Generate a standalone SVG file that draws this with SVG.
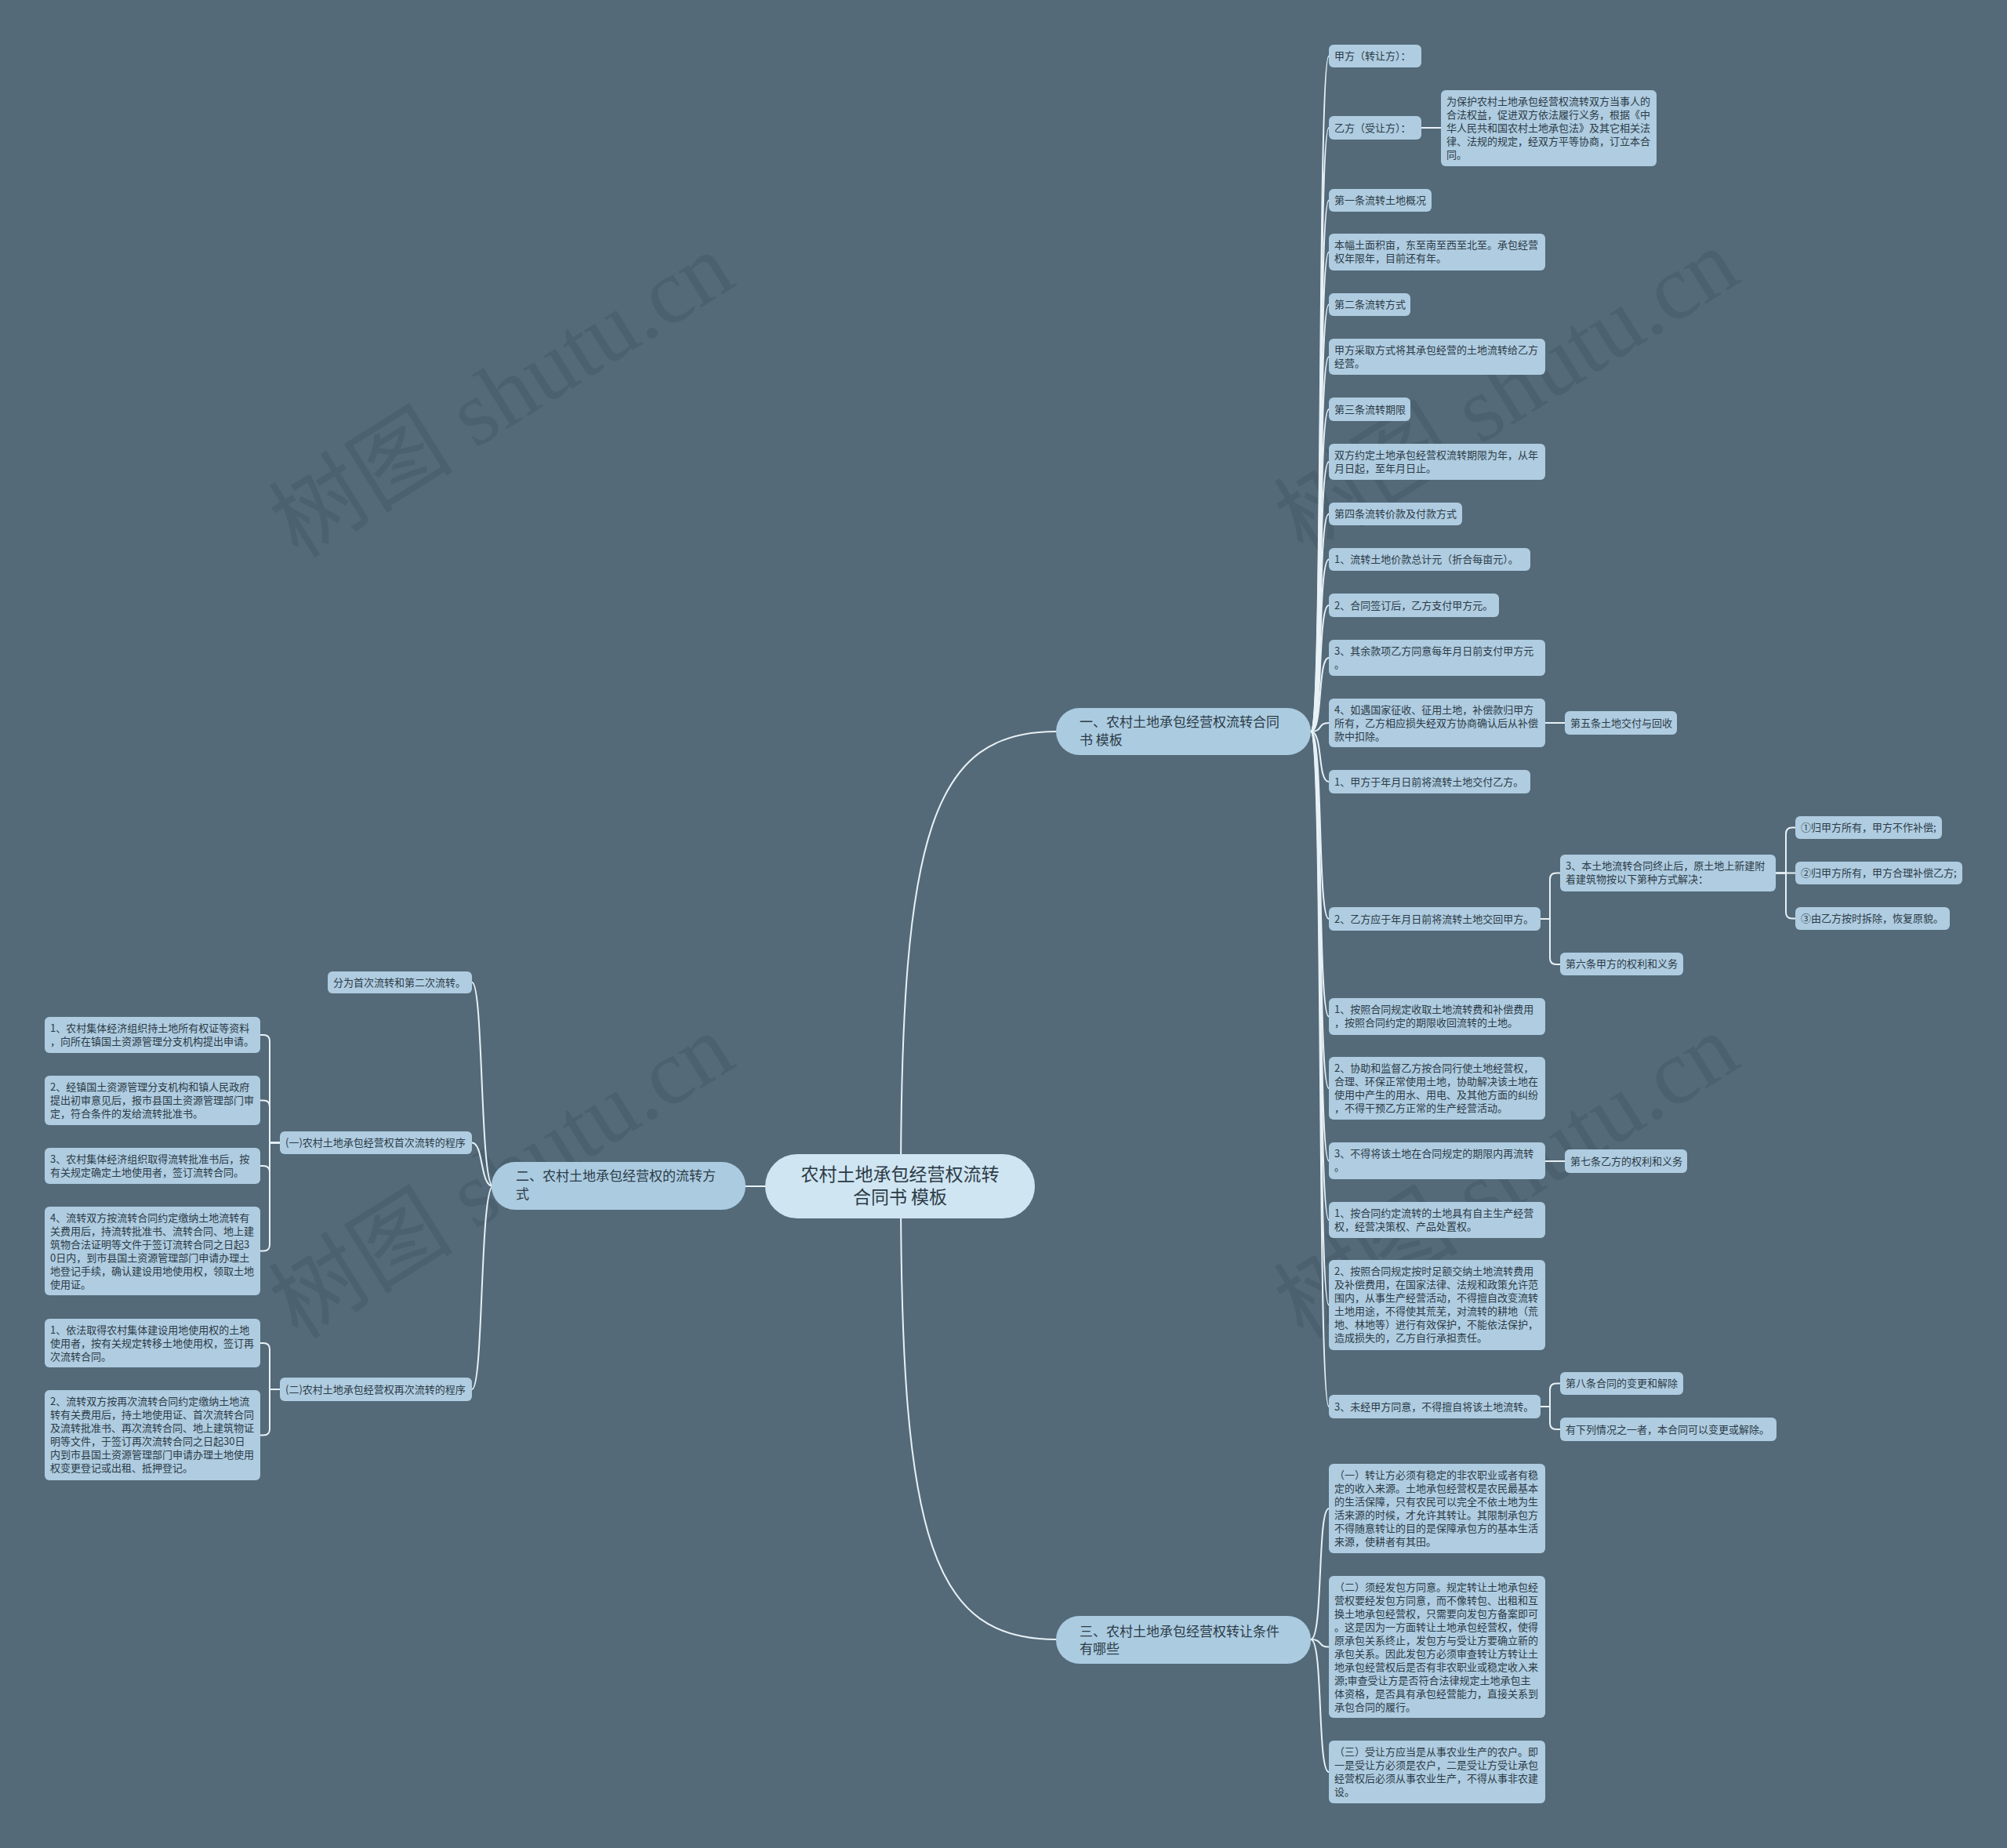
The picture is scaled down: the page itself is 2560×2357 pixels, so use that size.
<svg xmlns="http://www.w3.org/2000/svg" width="2560" height="2357" viewBox="0 0 2560 2357">
<style>
.bg{fill:#546a79}
.wm{font-family:'Liberation Serif','Noto Sans CJK SC',serif;font-size:118px;fill:#465a68;opacity:0.55}
.box{fill:#afcce0}
.l1{fill:#abcbe0}
.root{fill:#cfe5f1}
.t{font-family:'Noto Sans CJK SC','Noto Sans',sans-serif;font-size:13px;fill:#2c3b47}
.t1{font-family:'Noto Sans CJK SC','Noto Sans',sans-serif;font-size:17px;fill:#2c3b47}
.tr{font-family:'Noto Sans CJK SC','Noto Sans',sans-serif;font-size:23px;fill:#2c3b47}
.c{fill:none;stroke:#e8f1f6;stroke-width:2}
</style>
<rect class="bg" x="0" y="0" width="2560" height="2357"/>
<g id="watermarks">
<text class="wm" transform="translate(661,538) rotate(-32)" text-anchor="middle">树图 shutu.cn</text>
<text class="wm" transform="translate(1943,533) rotate(-32)" text-anchor="middle">树图 shutu.cn</text>
<text class="wm" transform="translate(661,1534) rotate(-32)" text-anchor="middle">树图 shutu.cn</text>
<text class="wm" transform="translate(1943,1534) rotate(-32)" text-anchor="middle">树图 shutu.cn</text>
</g>
<g id="connectors">
<path class="c" d="M1149,1513 C1149,1060 1190,933 1347,933"/>
<path class="c" d="M1149,1513 C1149,1966 1190,2091 1347,2091"/>
<path class="c" d="M976,1513 L951,1513"/>
<path class="c" d="M1672,933 C1688,933 1680,71.5 1695,71.5"/>
<path class="c" d="M1672,933 C1688,933 1680,163 1695,163"/>
<path class="c" d="M1672,933 C1688,933 1680,255.5 1695,255.5"/>
<path class="c" d="M1672,933 C1688,933 1680,321.5 1695,321.5"/>
<path class="c" d="M1672,933 C1688,933 1680,388.5 1695,388.5"/>
<path class="c" d="M1672,933 C1688,933 1680,455 1695,455"/>
<path class="c" d="M1672,933 C1688,933 1680,522 1695,522"/>
<path class="c" d="M1672,933 C1688,933 1680,589 1695,589"/>
<path class="c" d="M1672,933 C1688,933 1680,655.5 1695,655.5"/>
<path class="c" d="M1672,933 C1688,933 1680,713.5 1695,713.5"/>
<path class="c" d="M1672,933 C1688,933 1680,772 1695,772"/>
<path class="c" d="M1672,933 C1688,933 1680,839 1695,839"/>
<path class="c" d="M1672,933 C1688,933 1680,922 1695,922"/>
<path class="c" d="M1672,933 C1688,933 1680,997 1695,997"/>
<path class="c" d="M1672,933 C1688,933 1680,1172 1695,1172"/>
<path class="c" d="M1672,933 C1688,933 1680,1296.5 1695,1296.5"/>
<path class="c" d="M1672,933 C1688,933 1680,1388 1695,1388"/>
<path class="c" d="M1672,933 C1688,933 1680,1480.5 1695,1480.5"/>
<path class="c" d="M1672,933 C1688,933 1680,1556 1695,1556"/>
<path class="c" d="M1672,933 C1688,933 1680,1664.5 1695,1664.5"/>
<path class="c" d="M1672,933 C1688,933 1680,1794 1695,1794"/>
<path class="c" d="M1813,163 L1838,163"/>
<path class="c" d="M1971,922 L1996,922"/>
<path class="c" d="M1971,1481 L1996,1481"/>
<path class="c" d="M1965,1172 H1977 V1121.5 Q1977,1113.5 1985,1113.5 H1990"/>
<path class="c" d="M1965,1172 H1977 V1222 Q1977,1230 1985,1230 H1990"/>
<path class="c" d="M2265,1113.5 H2278 V1063.5 Q2278,1055.5 2286,1055.5 H2290"/>
<path class="c" d="M2265,1113.5 H2290"/>
<path class="c" d="M2265,1113.5 H2278 V1163.5 Q2278,1171.5 2286,1171.5 H2290"/>
<path class="c" d="M1965,1794 H1977 V1772.5 Q1977,1764.5 1985,1764.5 H1990"/>
<path class="c" d="M1965,1794 H1977 V1815 Q1977,1823 1985,1823 H1990"/>
<path class="c" d="M1672,2091 C1688,2091 1680,1924 1695,1924"/>
<path class="c" d="M1672,2091 C1688,2091 1680,2100.5 1695,2100.5"/>
<path class="c" d="M1672,2091 C1688,2091 1680,2260 1695,2260"/>
<path class="c" d="M629,1513 C612,1513 617,1253 602,1253"/>
<path class="c" d="M629,1513 C612,1513 617,1457.5 602,1457.5"/>
<path class="c" d="M629,1513 C612,1513 617,1772 602,1772"/>
<path class="c" d="M357,1457.5 H344 V1328 Q344,1320 336,1320 H332"/>
<path class="c" d="M357,1457.5 H344 V1411.5 Q344,1403.5 336,1403.5 H332"/>
<path class="c" d="M357,1457.5 H344 V1495 Q344,1487 336,1487 H332"/>
<path class="c" d="M357,1457.5 H344 V1587.5 Q344,1595.5 336,1595.5 H332"/>
<path class="c" d="M357,1772 H344 V1721 Q344,1713 336,1713 H332"/>
<path class="c" d="M357,1772 H344 V1822.5 Q344,1830.5 336,1830.5 H332"/>
</g>
<g id="root"><rect class="root" x="976" y="1472" width="344" height="82" rx="41"/><text class="tr" text-anchor="middle"><tspan x="1148" y="1506">农村土地承包经营权流转</tspan><tspan x="1148" y="1535">合同书 模板</tspan></text></g>
<g id="b1"><rect class="l1" x="1347" y="903" width="325" height="60" rx="30"/><text class="t1"><tspan x="1377" y="927">一、农村土地承包经营权流转合同</tspan><tspan x="1377" y="950">书 模板</tspan></text></g>
<g id="b2"><rect class="l1" x="627" y="1482" width="324" height="61" rx="30"/><text class="t1"><tspan x="658" y="1506">二、农村土地承包经营权的流转方</tspan><tspan x="658" y="1529">式</tspan></text></g>
<g id="b3"><rect class="l1" x="1347" y="2061" width="325" height="61" rx="30"/><text class="t1"><tspan x="1377" y="2087">三、农村土地承包经营权转让条件</tspan><tspan x="1377" y="2109">有哪些</tspan></text></g>
<g id="n1"><rect class="box" x="1695" y="57" width="118" height="29" rx="6"/><text class="t" x="1702" y="76">甲方（转让方）：</text></g>
<g id="n2"><rect class="box" x="1695" y="148" width="118" height="30" rx="6"/><text class="t" x="1702" y="168">乙方（受让方）：</text></g>
<g id="n2a"><rect class="box" x="1838" y="115" width="275" height="97" rx="6"/><text class="t"><tspan x="1845" y="134">为保护农村土地承包经营权流转双方当事人的</tspan><tspan x="1845" y="151">合法权益，促进双方依法履行义务，根据《中</tspan><tspan x="1845" y="168">华人民共和国农村土地承包法》及其它相关法</tspan><tspan x="1845" y="185">律、法规的规定，经双方平等协商，订立本合</tspan><tspan x="1845" y="202">同。</tspan></text></g>
<g id="n3"><rect class="box" x="1695" y="241" width="131" height="29" rx="6"/><text class="t" x="1702" y="260">第一条流转土地概况</text></g>
<g id="n4"><rect class="box" x="1695" y="298" width="276" height="47" rx="6"/><text class="t"><tspan x="1702" y="317">本幅土面积亩，东至南至西至北至。承包经营</tspan><tspan x="1702" y="334">权年限年，目前还有年。</tspan></text></g>
<g id="n5"><rect class="box" x="1695" y="374" width="104" height="29" rx="6"/><text class="t" x="1702" y="393">第二条流转方式</text></g>
<g id="n6"><rect class="box" x="1695" y="432" width="276" height="46" rx="6"/><text class="t"><tspan x="1702" y="451">甲方采取方式将其承包经营的土地流转给乙方</tspan><tspan x="1702" y="468">经营。</tspan></text></g>
<g id="n7"><rect class="box" x="1695" y="507" width="104" height="30" rx="6"/><text class="t" x="1702" y="527">第三条流转期限</text></g>
<g id="n8"><rect class="box" x="1695" y="566" width="276" height="46" rx="6"/><text class="t"><tspan x="1702" y="585">双方约定土地承包经营权流转期限为年，从年</tspan><tspan x="1702" y="602">月日起，至年月日止。</tspan></text></g>
<g id="n9"><rect class="box" x="1695" y="641" width="170" height="29" rx="6"/><text class="t" x="1702" y="660">第四条流转价款及付款方式</text></g>
<g id="n10"><rect class="box" x="1695" y="699" width="257" height="29" rx="6"/><text class="t" x="1702" y="718">1、流转土地价款总计元（折合每亩元）。</text></g>
<g id="n11"><rect class="box" x="1695" y="757" width="217" height="30" rx="6"/><text class="t" x="1702" y="777">2、合同签订后，乙方支付甲方元。</text></g>
<g id="n12"><rect class="box" x="1695" y="816" width="276" height="46" rx="6"/><text class="t"><tspan x="1702" y="835">3、其余款项乙方同意每年月日前支付甲方元</tspan><tspan x="1702" y="852">。</tspan></text></g>
<g id="n13"><rect class="box" x="1695" y="891" width="276" height="62" rx="6"/><text class="t"><tspan x="1702" y="910">4、如遇国家征收、征用土地，补偿款归甲方</tspan><tspan x="1702" y="927">所有，乙方相应损失经双方协商确认后从补偿</tspan><tspan x="1702" y="944">款中扣除。</tspan></text></g>
<g id="n13a"><rect class="box" x="1996" y="907" width="143" height="30" rx="6"/><text class="t" x="2003" y="927">第五条土地交付与回收</text></g>
<g id="n14"><rect class="box" x="1695" y="982" width="257" height="30" rx="6"/><text class="t" x="1702" y="1002">1、甲方于年月日前将流转土地交付乙方。</text></g>
<g id="n15"><rect class="box" x="1695" y="1157" width="270" height="30" rx="6"/><text class="t" x="1702" y="1177">2、乙方应于年月日前将流转土地交回甲方。</text></g>
<g id="n15a"><rect class="box" x="1990" y="1090" width="275" height="47" rx="6"/><text class="t"><tspan x="1997" y="1109">3、本土地流转合同终止后，原土地上新建附</tspan><tspan x="1997" y="1126">着建筑物按以下第种方式解决：</tspan></text></g>
<g id="n15a1"><rect class="box" x="2290" y="1041" width="187" height="29" rx="6"/><text class="t" x="2297" y="1060">①归甲方所有，甲方不作补偿;</text></g>
<g id="n15a2"><rect class="box" x="2290" y="1099" width="213" height="29" rx="6"/><text class="t" x="2297" y="1118">②归甲方所有，甲方合理补偿乙方;</text></g>
<g id="n15a3"><rect class="box" x="2290" y="1157" width="197" height="29" rx="6"/><text class="t" x="2297" y="1176">③由乙方按时拆除，恢复原貌。</text></g>
<g id="n15b"><rect class="box" x="1990" y="1215" width="157" height="29" rx="6"/><text class="t" x="1997" y="1234">第六条甲方的权利和义务</text></g>
<g id="n16"><rect class="box" x="1695" y="1273" width="276" height="47" rx="6"/><text class="t"><tspan x="1702" y="1292">1、按照合同规定收取土地流转费和补偿费用</tspan><tspan x="1702" y="1309">，按照合同约定的期限收回流转的土地。</tspan></text></g>
<g id="n17"><rect class="box" x="1695" y="1348" width="276" height="80" rx="6"/><text class="t"><tspan x="1702" y="1367">2、协助和监督乙方按合同行使土地经营权，</tspan><tspan x="1702" y="1384">合理、环保正常使用土地，协助解决该土地在</tspan><tspan x="1702" y="1401">使用中产生的用水、用电、及其他方面的纠纷</tspan><tspan x="1702" y="1418">，不得干预乙方正常的生产经营活动。</tspan></text></g>
<g id="n18"><rect class="box" x="1695" y="1457" width="276" height="47" rx="6"/><text class="t"><tspan x="1702" y="1476">3、不得将该土地在合同规定的期限内再流转</tspan><tspan x="1702" y="1493">。</tspan></text></g>
<g id="n18a"><rect class="box" x="1996" y="1466" width="156" height="30" rx="6"/><text class="t" x="2003" y="1486">第七条乙方的权利和义务</text></g>
<g id="n19"><rect class="box" x="1695" y="1533" width="276" height="46" rx="6"/><text class="t"><tspan x="1702" y="1552">1、按合同约定流转的土地具有自主生产经营</tspan><tspan x="1702" y="1569">权，经营决策权、产品处置权。</tspan></text></g>
<g id="n20"><rect class="box" x="1695" y="1607" width="276" height="115" rx="6"/><text class="t"><tspan x="1702" y="1626">2、按照合同规定按时足额交纳土地流转费用</tspan><tspan x="1702" y="1643">及补偿费用，在国家法律、法规和政策允许范</tspan><tspan x="1702" y="1660">围内，从事生产经营活动，不得擅自改变流转</tspan><tspan x="1702" y="1677">土地用途，不得使其荒芜，对流转的耕地（荒</tspan><tspan x="1702" y="1694">地、林地等）进行有效保护，不能依法保护，</tspan><tspan x="1702" y="1711">造成损失的，乙方自行承担责任。</tspan></text></g>
<g id="n21"><rect class="box" x="1695" y="1779" width="270" height="30" rx="6"/><text class="t" x="1702" y="1799">3、未经甲方同意，不得擅自将该土地流转。</text></g>
<g id="n21a"><rect class="box" x="1990" y="1750" width="157" height="29" rx="6"/><text class="t" x="1997" y="1769">第八条合同的变更和解除</text></g>
<g id="n21b"><rect class="box" x="1990" y="1808" width="276" height="30" rx="6"/><text class="t" x="1997" y="1828">有下列情况之一者，本合同可以变更或解除。</text></g>
<g id="n31"><rect class="box" x="1695" y="1867" width="276" height="114" rx="6"/><text class="t"><tspan x="1702" y="1886">（一）转让方必须有稳定的非农职业或者有稳</tspan><tspan x="1702" y="1903">定的收入来源。土地承包经营权是农民最基本</tspan><tspan x="1702" y="1920">的生活保障，只有农民可以完全不依土地为生</tspan><tspan x="1702" y="1937">活来源的时候，才允许其转让。其限制承包方</tspan><tspan x="1702" y="1954">不得随意转让的目的是保障承包方的基本生活</tspan><tspan x="1702" y="1971">来源，使耕者有其田。</tspan></text></g>
<g id="n32"><rect class="box" x="1695" y="2010" width="276" height="181" rx="6"/><text class="t"><tspan x="1702" y="2029">（二）须经发包方同意。规定转让土地承包经</tspan><tspan x="1702" y="2046">营权要经发包方同意，而不像转包、出租和互</tspan><tspan x="1702" y="2063">换土地承包经营权，只需要向发包方备案即可</tspan><tspan x="1702" y="2080">。这是因为一方面转让土地承包经营权，使得</tspan><tspan x="1702" y="2097">原承包关系终止，发包方与受让方要确立新的</tspan><tspan x="1702" y="2114">承包关系。因此发包方必须审查转让方转让土</tspan><tspan x="1702" y="2131">地承包经营权后是否有非农职业或稳定收入来</tspan><tspan x="1702" y="2148">源;审查受让方是否符合法律规定土地承包主</tspan><tspan x="1702" y="2165">体资格，是否具有承包经营能力，直接关系到</tspan><tspan x="1702" y="2182">承包合同的履行。</tspan></text></g>
<g id="n33"><rect class="box" x="1695" y="2220" width="276" height="80" rx="6"/><text class="t"><tspan x="1702" y="2239">（三）受让方应当是从事农业生产的农户。即</tspan><tspan x="1702" y="2256">一是受让方必须是农户，二是受让方受让承包</tspan><tspan x="1702" y="2273">经营权后必须从事农业生产，不得从事非农建</tspan><tspan x="1702" y="2290">设。</tspan></text></g>
<g id="L1"><rect class="box" x="418" y="1239" width="184" height="28" rx="6"/><text class="t" x="425" y="1258">分为首次流转和第二次流转。</text></g>
<g id="L2"><rect class="box" x="357" y="1443" width="245" height="29" rx="6"/><text class="t" x="364" y="1462">(一)农村土地承包经营权首次流转的程序</text></g>
<g id="L2a"><rect class="box" x="57" y="1297" width="275" height="46" rx="6"/><text class="t"><tspan x="64" y="1316">1、农村集体经济组织持土地所有权证等资料</tspan><tspan x="64" y="1333">，向所在镇国土资源管理分支机构提出申请。</tspan></text></g>
<g id="L2b"><rect class="box" x="57" y="1372" width="275" height="63" rx="6"/><text class="t"><tspan x="64" y="1391">2、经镇国土资源管理分支机构和镇人民政府</tspan><tspan x="64" y="1408">提出初审意见后，报市县国土资源管理部门审</tspan><tspan x="64" y="1425">定，符合条件的发给流转批准书。</tspan></text></g>
<g id="L2c"><rect class="box" x="57" y="1464" width="275" height="46" rx="6"/><text class="t"><tspan x="64" y="1483">3、农村集体经济组织取得流转批准书后，按</tspan><tspan x="64" y="1500">有关规定确定土地使用者，签订流转合同。</tspan></text></g>
<g id="L2d"><rect class="box" x="57" y="1539" width="275" height="113" rx="6"/><text class="t"><tspan x="64" y="1558">4、流转双方按流转合同约定缴纳土地流转有</tspan><tspan x="64" y="1575">关费用后，持流转批准书、流转合同、地上建</tspan><tspan x="64" y="1592">筑物合法证明等文件于签订流转合同之日起3</tspan><tspan x="64" y="1609">0日内，到市县国土资源管理部门申请办理土</tspan><tspan x="64" y="1626">地登记手续，确认建设用地使用权，领取土地</tspan><tspan x="64" y="1643">使用证。</tspan></text></g>
<g id="L3"><rect class="box" x="357" y="1757" width="245" height="30" rx="6"/><text class="t" x="364" y="1777">(二)农村土地承包经营权再次流转的程序</text></g>
<g id="L3a"><rect class="box" x="57" y="1682" width="275" height="62" rx="6"/><text class="t"><tspan x="64" y="1701">1、依法取得农村集体建设用地使用权的土地</tspan><tspan x="64" y="1718">使用者，按有关规定转移土地使用权，签订再</tspan><tspan x="64" y="1735">次流转合同。</tspan></text></g>
<g id="L3b"><rect class="box" x="57" y="1773" width="275" height="115" rx="6"/><text class="t"><tspan x="64" y="1792">2、流转双方按再次流转合同约定缴纳土地流</tspan><tspan x="64" y="1809">转有关费用后，持土地使用证、首次流转合同</tspan><tspan x="64" y="1826">及流转批准书、再次流转合同、地上建筑物证</tspan><tspan x="64" y="1843">明等文件，于签订再次流转合同之日起30日</tspan><tspan x="64" y="1860">内到市县国土资源管理部门申请办理土地使用</tspan><tspan x="64" y="1877">权变更登记或出租、抵押登记。</tspan></text></g>
</svg>
